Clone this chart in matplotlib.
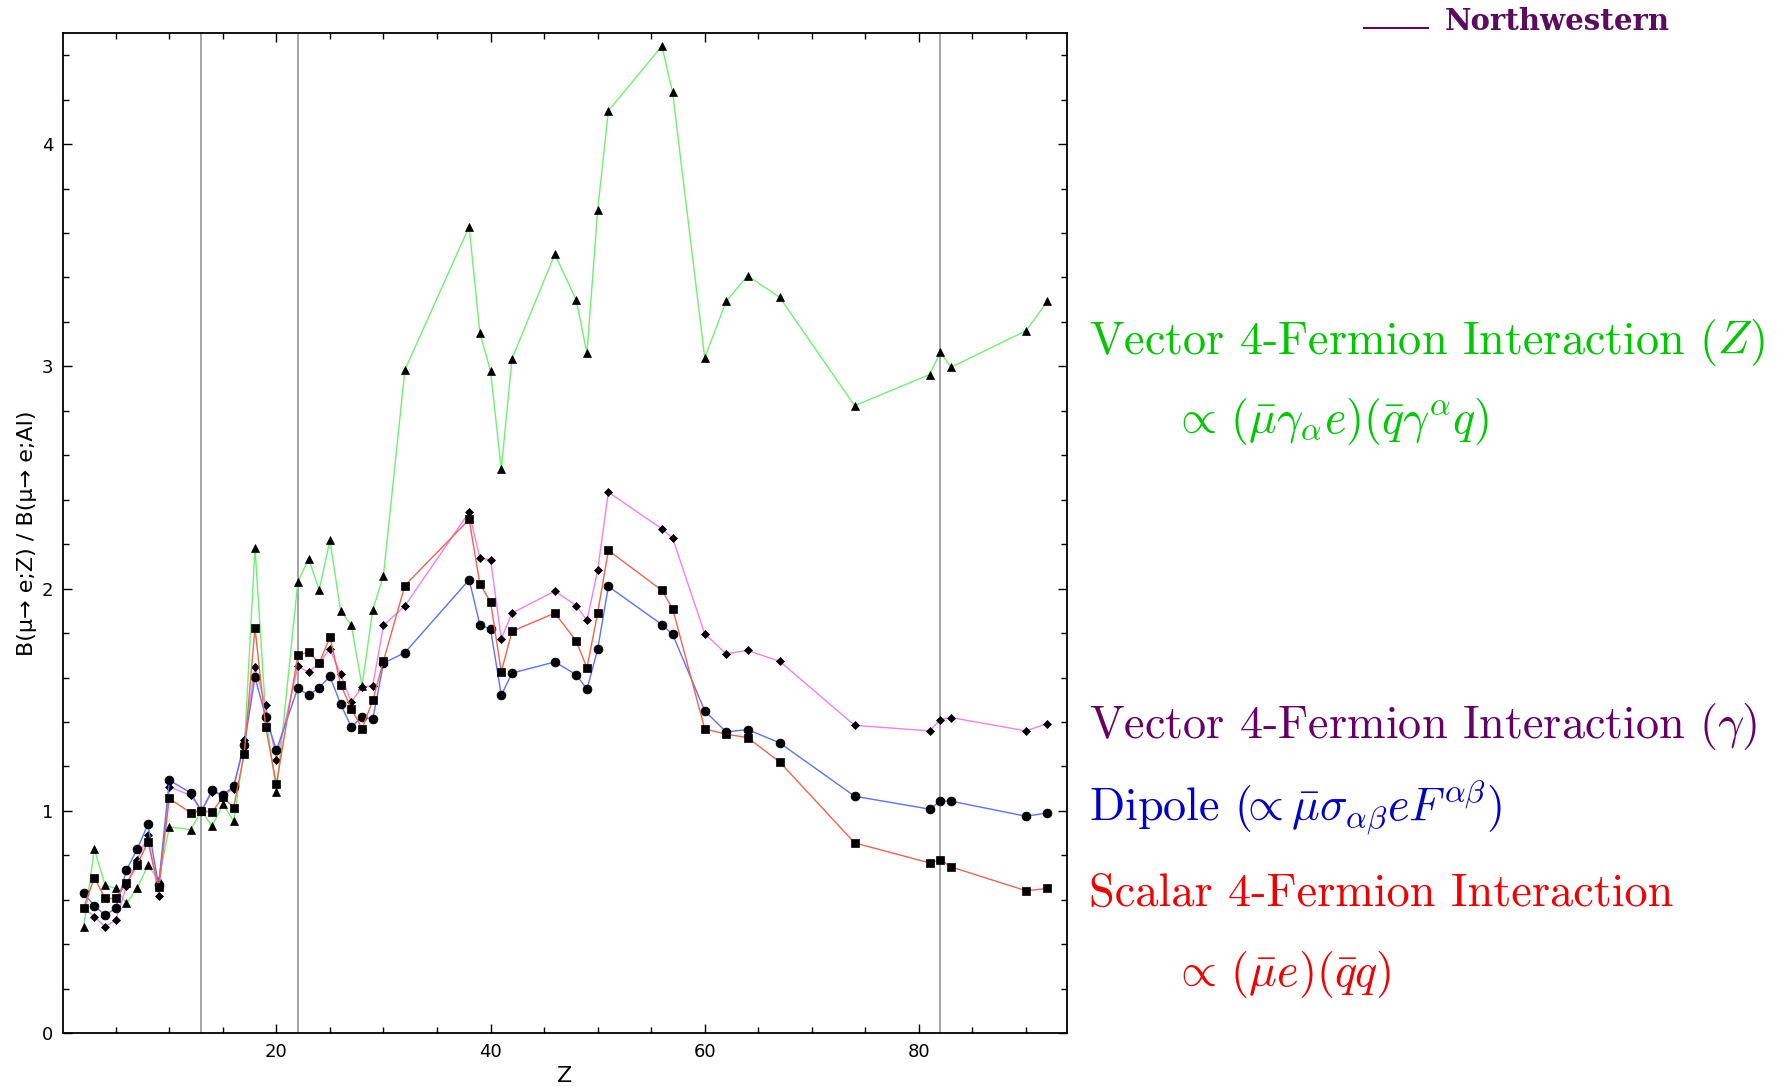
import matplotlib
matplotlib.use('Agg')
import matplotlib.pyplot as plt
from matplotlib.ticker import MultipleLocator, FixedLocator
from matplotlib.lines import Line2D

# ---------------- data ----------------
Z = [2, 3, 4, 5, 6, 7, 8, 9, 10, 12, 13, 14, 15, 16, 17, 18, 19, 20,
     22, 23, 24, 25, 26, 27, 28, 29, 30, 32, 38, 39, 40, 41, 42, 46, 48,
     49, 50, 51, 56, 57, 60, 62, 64, 67, 74, 81, 82, 83, 90, 92]

vector_Z = [0.479, 0.828, 0.666, 0.651, 0.584, 0.651, 0.756, 0.688, 0.928, 0.916,
            1.0, 0.931, 1.03, 0.955, 1.273, 2.184, 1.43, 1.083,
            2.029, 2.134, 1.995, 2.217, 1.899, 1.835, 1.562, 1.905, 2.059, 2.984,
            3.628, 3.150, 2.978, 2.536, 3.033, 3.505, 3.298, 3.058, 3.703, 4.149,
            4.441, 4.232, 3.038, 3.292, 3.408, 3.310, 2.823, 2.963, 3.063, 2.996,
            3.160, 3.292]

vector_gamma = [0.565, 0.524, 0.479, 0.509, 0.66, 0.78, 0.890, 0.617, 1.108, 1.070,
                1.0, 1.085, 1.07, 1.10, 1.318, 1.647, 1.475, 1.228,
                1.650, 1.625, 1.665, 1.730, 1.614, 1.490, 1.557, 1.564, 1.835, 1.922,
                2.344, 2.137, 2.130, 1.775, 1.890, 1.989, 1.924, 1.857, 2.082, 2.434,
                2.269, 2.227, 1.797, 1.707, 1.722, 1.673, 1.385, 1.360, 1.411, 1.420,
                1.360, 1.393]

dipole = [0.629, 0.573, 0.531, 0.561, 0.734, 0.828, 0.939, 0.666, 1.138, 1.081,
          1.0, 1.093, 1.07, 1.111, 1.295, 1.602, 1.422, 1.273,
          1.553, 1.520, 1.555, 1.605, 1.480, 1.377, 1.423, 1.412, 1.665, 1.712,
          2.040, 1.838, 1.817, 1.520, 1.620, 1.670, 1.613, 1.547, 1.727, 2.010,
          1.838, 1.794, 1.450, 1.355, 1.366, 1.306, 1.066, 1.008, 1.044, 1.044,
          0.976, 0.991]

scalar = [0.564, 0.700, 0.606, 0.606, 0.674, 0.756, 0.861, 0.659, 1.056, 0.991,
          1.0, 0.995, 1.063, 1.015, 1.258, 1.824, 1.378, 1.120,
          1.700, 1.715, 1.665, 1.782, 1.568, 1.460, 1.370, 1.497, 1.675, 2.014,
          2.311, 2.022, 1.940, 1.625, 1.808, 1.890, 1.764, 1.643, 1.890, 2.172,
          1.992, 1.910, 1.369, 1.345, 1.330, 1.220, 0.856, 0.766, 0.781, 0.748,
          0.641, 0.651]

reference_Z = [13, 22, 82]          # Al, Ti, Pb
x_major = [20, 40, 60, 80]
y_major = [0, 1, 2, 3, 4]

legend_lines = [
    ("Vector 4-Fermion Interaction $(Z)$", '#00c800'),
    (r"$\propto\,(\bar{\mu}\gamma_{\alpha}e)(\bar{q}\gamma^{\alpha}q)$", '#00c800'),
    (r"Vector 4-Fermion Interaction $(\gamma)$", '#660066'),
    (r"Dipole $(\!\!\propto\bar{\mu}\sigma_{\alpha\beta}eF^{\alpha\beta})$", '#0000c8'),
    ("Scalar 4-Fermion Interaction", '#f00000'),
    (r"$\propto\,(\bar{\mu}e)(\bar{q}q)$", '#f00000'),
]

# ---------------- figure ----------------
plt.rcParams['mathtext.fontset'] = 'cm'
W, H = 1777, 1087
fig = plt.figure(figsize=(W / 100, H / 100), dpi=100)

left, right, top, bottom = 63.3, 1066.7, 32.9, 1033.2
ax = fig.add_axes([left / W, 1 - bottom / H, (right - left) / W, (bottom - top) / H])

for zr in reference_Z:
    ax.axvline(zr, color='#8c8c8c', lw=1.1, zorder=1)

series = [
    (vector_Z, '#70f070', '^', 5.4),
    (vector_gamma, '#f27ef2', 'D', 4.4),
    (dipole, '#5a72ff', 'o', 6.4),
    (scalar, '#f2624f', 's', 5.8),
]
for vals, col, mk, ms in series:
    ax.plot(Z, vals, color=col, lw=1.0, marker=mk, ms=ms,
            mfc='black', mec='black', mew=0.5, zorder=3)

ax.set_xlim(0.1, 93.8)
ax.set_ylim(0, 4.5)
ax.xaxis.set_major_locator(FixedLocator(x_major))
ax.xaxis.set_minor_locator(MultipleLocator(5))
ax.yaxis.set_major_locator(FixedLocator(y_major))
ax.yaxis.set_minor_locator(MultipleLocator(0.2))
ax.tick_params(which='both', direction='in', top=True, right=True,
               labelsize=13, width=1.0, pad=7)
ax.tick_params(which='major', length=6.5)
ax.tick_params(which='minor', length=4.5)
for sp in ax.spines.values():
    sp.set_linewidth(1.3)

ax.set_xlabel('Z', fontsize=16, labelpad=4)
ax.set_ylabel('B(μ→ e;Z) / B(μ→ e;Al)', fontsize=16, labelpad=4)

# ---------------- right-hand labels ----------------
positions = [(1089, 353.6), (1172, 433), (1089, 737.9),
             (1089, 820.5), (1089, 905.4), (1172, 986)]
for (txt, col), (px, py) in zip(legend_lines, positions):
    fig.text(px / W, 1 - py / H, txt, color=col, fontsize=33.3,
             family='cmr10', va='baseline', ha='left')

# ---------------- logo ----------------
logo_col = '#5c0b60'
fig.add_artist(Line2D([1364 / W, 1428 / W], [1 - 28.3 / H] * 2,
                      transform=fig.transFigure, color=logo_col, lw=1.5))
fig.text(1445 / W, 1 - 30 / H, 'Northwestern', color=logo_col, fontsize=21,
         family='DejaVu Serif', weight='bold', va='baseline', ha='left')

fig.savefig('out.png', dpi=100)
